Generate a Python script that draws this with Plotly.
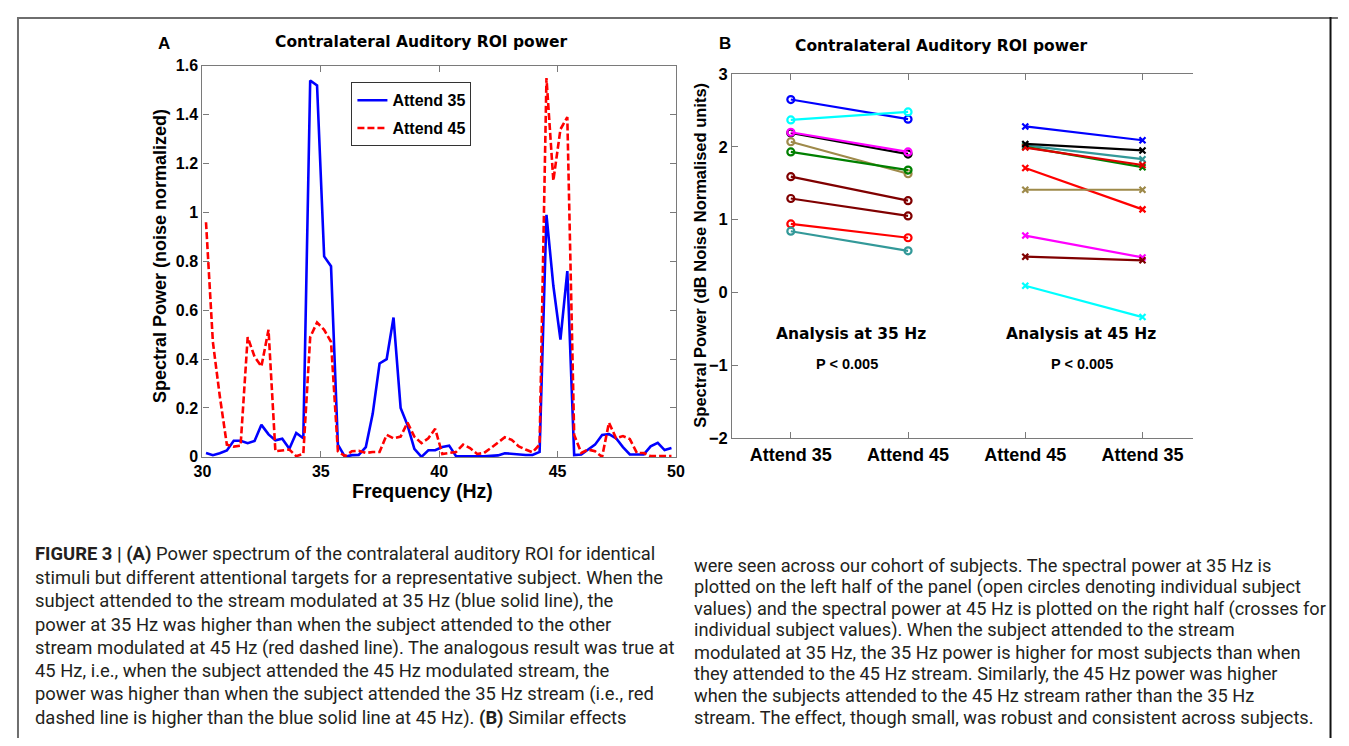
import plotly.graph_objects as go

# reference canvas (pixel coordinates below are in this frame)
W0, H0 = 1349, 746
BODY = 8  # default browser body margin
W, H = W0 - 2 * BODY, H0 - 2 * BODY

# ---------------- Panel A data ----------------
freq = [30.15, 30.44, 30.73, 31.03, 31.32, 31.61, 31.91, 32.20, 32.49, 32.79,
        33.08, 33.37, 33.67, 33.96, 34.26, 34.55, 34.84, 35.14, 35.43, 35.72,
        36.02, 36.31, 36.60, 36.90, 37.19, 37.48, 37.78, 38.07, 38.37, 38.66,
        38.95, 39.25, 39.54, 39.83, 40.13, 40.42, 40.71, 41.01, 41.30, 41.60,
        41.89, 42.18, 42.48, 42.77, 43.06, 43.36, 43.65, 43.94, 44.24, 44.53,
        44.82, 45.12, 45.41, 45.70, 46.00, 46.29, 46.58, 46.88, 47.17, 47.47,
        47.76, 48.05, 48.35, 48.64, 48.93, 49.23, 49.52, 49.81]

attend35 = [0.016, 0.007, 0.015, 0.026, 0.066, 0.066, 0.056, 0.065, 0.131, 0.092,
            0.068, 0.074, 0.033, 0.098, 0.076, 1.54, 1.52, 0.82, 0.78, 0.05,
            0.0, 0.007, 0.008, 0.04, 0.176, 0.382, 0.40, 0.57, 0.20, 0.13,
            0.033, 0.0, 0.027, 0.027, 0.04, 0.046, 0.003, 0.002, 0.002, 0.002,
            0.002, 0.004, 0.006, 0.015, 0.012, 0.008, 0.008, 0.008, 0.02, 0.99,
            0.70, 0.48, 0.76, 0.007, 0.01, 0.03, 0.05, 0.09, 0.093, 0.076,
            0.04, 0.01, 0.01, 0.01, 0.043, 0.057, 0.028, 0.036]

attend45 = [0.96, 0.47, 0.25, 0.05, 0.042, 0.046, 0.49, 0.41, 0.37, 0.52,
            0.023, 0.025, 0.03, 0.003, 0.012, 0.49, 0.55, 0.52, 0.47, 0.023,
            0.003, 0.023, 0.025, 0.016, 0.02, 0.02, 0.09, 0.076, 0.083, 0.14,
            0.083, 0.056, 0.076, 0.115, 0.012, 0.016, 0.02, 0.05, 0.036, 0.012,
            0.016, 0.036, 0.06, 0.08, 0.07, 0.043, 0.03, 0.019, 0.05, 1.55,
            1.13, 1.34, 1.39, 0.09, 0.016, 0.03, 0.023, 0.0, 0.14, 0.076,
            0.085, 0.073, 0.016, 0.016, 0.003, 0.003, 0.003, 0.003]

# ---------------- Panel B data ----------------
b_tick_labels = ["Attend 35", "Attend 45", "Attend 45", "Attend 35"]
b_positions = [1, 2, 3, 4]

circ_colors = ["#0000ff", "#00ffff", "#000000", "#ff00ff", "#9e8a4a",
               "#008000", "#800000", "#800000", "#ff0000", "#339999"]
circ_att35 = [2.65, 2.37, 2.19, 2.20, 2.07, 1.93, 1.59, 1.29, 0.94, 0.84]
circ_att45 = [2.38, 2.48, 1.90, 1.93, 1.63, 1.68, 1.26, 1.05, 0.75, 0.57]

cross_colors = ["#0000ff", "#339999", "#008000", "#e00000", "#000000",
                "#ff0000", "#9e8a4a", "#ff00ff", "#800000", "#00ffff"]
cross_att45 = [2.28, 2.02, 2.00, 1.99, 2.04, 1.71, 1.41, 0.78, 0.49, 0.09]
cross_att35 = [2.09, 1.83, 1.72, 1.75, 1.95, 1.14, 1.41, 0.48, 0.44, -0.34]

caption_left = [
    "<b>FIGURE 3 | (A)</b> Power spectrum of the contralateral auditory ROI for identical",
    "stimuli but different attentional targets for a representative subject. When the",
    "subject attended to the stream modulated at 35 Hz (blue solid line), the",
    "power at 35 Hz was higher than when the subject attended to the other",
    "stream modulated at 45 Hz (red dashed line). The analogous result was true at",
    "45 Hz, i.e., when the subject attended the 45 Hz modulated stream, the",
    "power was higher than when the subject attended the 35 Hz stream (i.e., red",
    "dashed line is higher than the blue solid line at 45 Hz). <b>(B)</b> Similar effects",
]
caption_right = [
    "were seen across our cohort of subjects. The spectral power at 35 Hz is",
    "plotted on the left half of the panel (open circles denoting individual subject",
    "values) and the spectral power at 45 Hz is plotted on the right half (crosses for",
    "individual subject values). When the subject attended to the stream",
    "modulated at 35 Hz, the 35 Hz power is higher for most subjects than when",
    "they attended to the 45 Hz stream. Similarly, the 45 Hz power was higher",
    "when the subjects attended to the 45 Hz stream rather than the 35 Hz",
    "stream. The effect, though small, was robust and consistent across subjects.",
]


def px(x):
    return (x - BODY) / W


def py(y):
    return 1 - (y - BODY) / H


AX = "#7a7a7a"
HEL = "Liberation Sans"
DJ = "DejaVu Sans"

fig = go.Figure()

fig.add_trace(go.Scatter(x=freq, y=attend35, mode="lines", name="Attend 35",
                         legendgroup="a35",
                         line=dict(color="#0000ff", width=2.6), xaxis="x", yaxis="y"))
fig.add_trace(go.Scatter(x=freq, y=attend45, mode="lines", name="Attend 45",
                         legendgroup="a45",
                         line=dict(color="#ff0000", width=2.6, dash="7px,3px"),
                         xaxis="x", yaxis="y"))

for c, a, b in zip(circ_colors, circ_att35, circ_att45):
    fig.add_trace(go.Scatter(x=b_positions[0:2], y=[a, b], mode="lines+markers",
                             line=dict(color=c, width=2.2),
                             marker=dict(symbol="circle-open", size=7, color=c,
                                         line=dict(width=2.2, color=c)),
                             showlegend=False, xaxis="x2", yaxis="y2"))
for c, a, b in zip(cross_colors, cross_att45, cross_att35):
    fig.add_trace(go.Scatter(x=b_positions[2:4], y=[a, b], mode="lines+markers",
                             line=dict(color=c, width=2.2),
                             marker=dict(symbol="x-thin-open", size=6, color=c,
                                         line=dict(width=2.2, color=c)),
                             showlegend=False, xaxis="x2", yaxis="y2"))

axis_common = dict(showline=True, linecolor=AX, linewidth=1.3, ticks="inside",
                   ticklen=6, tickcolor=AX, tickwidth=1.2, showgrid=False,
                   zeroline=False)

fig.update_layout(
    width=W, height=H,
    margin=dict(l=0, r=0, t=0, b=0),
    paper_bgcolor="white", plot_bgcolor="white",
    xaxis=dict(domain=[px(196), px(676)], range=[30, 50], dtick=5, tick0=30,
               mirror="ticks", anchor="y",
               tickfont=dict(family=HEL, size=16, color="black", weight="bold"),
               **axis_common),
    yaxis=dict(domain=[py(459), py(58)], range=[0, 1.6], dtick=0.2, tick0=0,
               mirror="ticks", anchor="x",
               tickfont=dict(family=HEL, size=16, color="black", weight="bold"),
               **axis_common),
    xaxis2=dict(domain=[px(733), px(1200)], range=[0.5, 4.43],
                tickvals=b_positions, ticktext=b_tick_labels,
                mirror="ticks", anchor="y2",
                tickfont=dict(family=HEL, size=18, color="black", weight="bold"),
                **axis_common),
    yaxis2=dict(domain=[py(439.5), py(66.5)], range=[-2, 3], dtick=1,
                mirror=False, anchor="x2",
                tickfont=dict(family=HEL, size=16.5, color="black", weight="bold"),
                **axis_common),
    legend=dict(x=px(347), y=py(75), xanchor="left", yanchor="top",
                bgcolor="white", bordercolor="#333333", borderwidth=1,
                font=dict(family=HEL, size=16, color="black", weight="bold"),
                tracegroupgap=4),
    showlegend=True,
)

ann = []


def text(x, y, s, size, family=HEL, bold=True, angle=0, xanchor="center", color="black"):
    ann.append(dict(x=px(x), y=py(y), xref="paper", yref="paper", text=s,
                    showarrow=False, xanchor=xanchor, yanchor="middle",
                    textangle=angle,
                    font=dict(family=family, size=size, color=color,
                              weight="bold" if bold else "normal")))


text(157, 35, "A", 17)
text(418, 34, "Contralateral Auditory ROI power", 15.5, family=DJ)
text(726, 35, "B", 17)
text(945, 38, "Contralateral Auditory ROI power", 15.5, family=DJ)
text(153, 253, "Spectral Power (noise normalized)", 18, angle=-90)
text(419, 494, "Frequency (Hz)", 19.5)
text(700, 252, "Spectral Power (dB Noise Normalised units)", 16.5, angle=-90)
text(853, 333, "Analysis at 35 Hz", 15.5, family=DJ)
text(1087, 333, "Analysis at 45 Hz", 15.5, family=DJ)
text(849, 364, "P < 0.005", 14.5)
text(1088, 364, "P < 0.005", 14.5)

for i, line in enumerate(caption_left):
    text(24, 559 + i * 23.9, line, 18.4, family="Roboto", bold=False, xanchor="left",
         color="#231f20")
for i, line in enumerate(caption_right):
    text(692, 570 + i * 22.3, line, 18.2, family="Roboto", bold=False, xanchor="left",
         color="#231f20")

fig.update_layout(annotations=ann)

shapes = [
    dict(type="line", xref="paper", yref="paper", x0=px(8.5), x1=px(1347), y0=py(9), y1=py(9),
         line=dict(color="#6e6e6e", width=2)),
    dict(type="line", xref="paper", yref="paper", x0=px(9), x1=px(9), y0=py(8), y1=py(760),
         line=dict(color="#6e6e6e", width=2)),
    dict(type="line", xref="paper", yref="paper", x0=px(1339.5), x1=px(1339.5), y0=py(8), y1=py(760),
         line=dict(color="#111111", width=2)),
]
fig.update_layout(shapes=shapes)

fig.write_html("out.html", config={"displayModeBar": False})
